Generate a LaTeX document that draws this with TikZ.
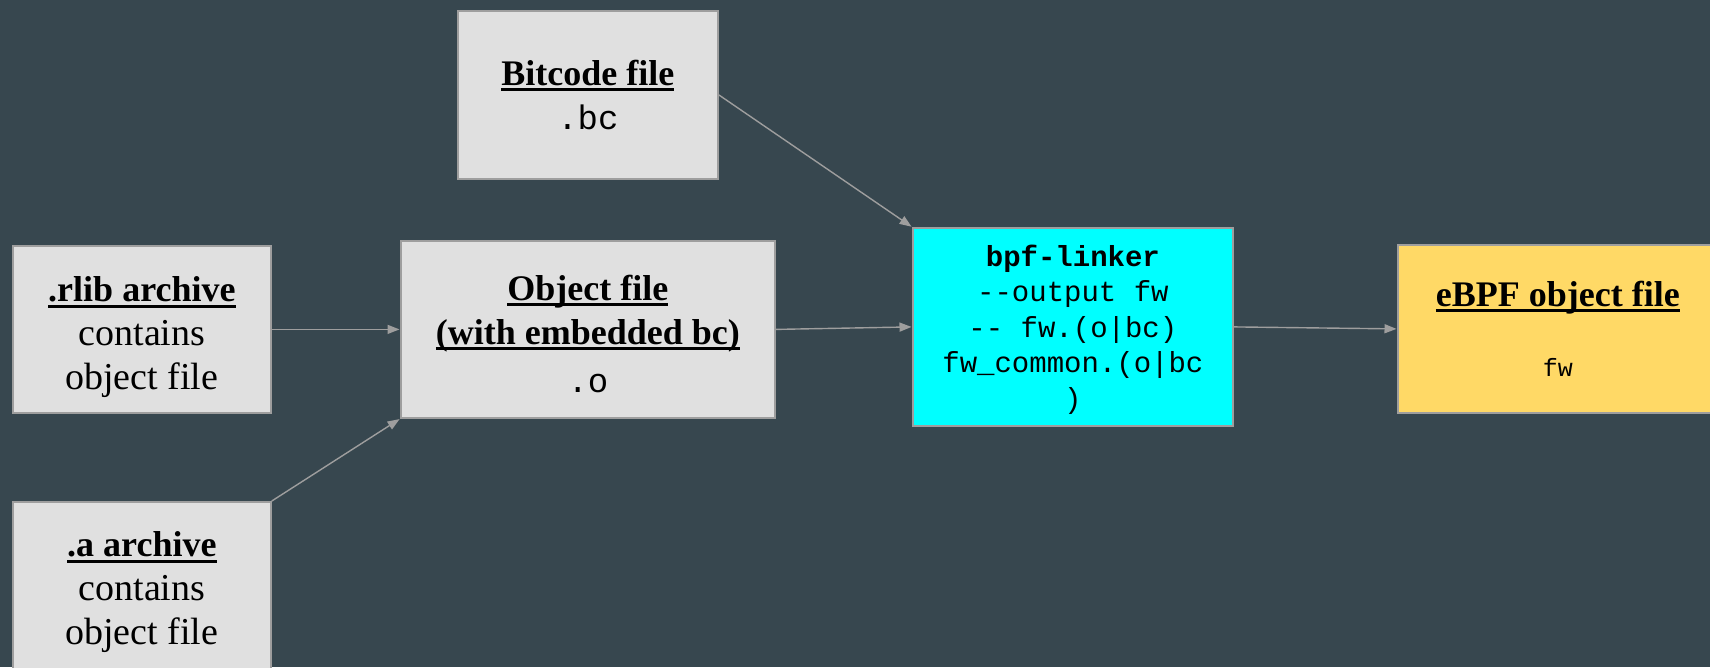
\documentclass[tikz,border=0pt]{standalone}
\usepackage{fontspec}
\setmainfont{Liberation Serif}
\setmonofont{Liberation Mono}
\usetikzlibrary{arrows.meta}
\definecolor{bg}{HTML}{37474F}
\definecolor{boxgray}{HTML}{E0E0E0}
\definecolor{edgegray}{HTML}{9E9E9E}
\definecolor{cyanbox}{HTML}{00FFFF}
\definecolor{ybox}{HTML}{FFD966}
\newcommand\myul[1]{\setbox0=\hbox{#1}\leavevmode\rlap{\rule[-0.16em]{\wd0}{0.08em}}\box0}
\newcommand\tstrut[1]{\rule{0pt}{#1}}
\newcommand\reg[1]{{\fontsize{38}{44}\selectfont #1}}
\tikzset{
  filebox/.style={rectangle, draw=edgegray, line width=1.8pt, fill=boxgray, inner sep=0pt,
    anchor=north west, align=center, font=\fontsize{36}{44}\selectfont},
  conn/.style={draw=edgegray, line width=1.4pt, -{Triangle[length=12pt,width=9pt]}, shorten >=0.5pt}
}
\begin{document}
\begin{tikzpicture}[x=1pt,y=-1pt]
\fill[bg] (0,0) rectangle (1710,667);
\useasboundingbox (0,0) rectangle (1710,667);
\clip (0,0) rectangle (1710,667);

\node[filebox, minimum width=260pt, minimum height=168pt] (bit) at (457,10)
  {\myul{\textbf{Bitcode file}}\\{\ttfamily\fontsize{34}{44}\selectfont .bc}};
\node[filebox, minimum width=258pt, minimum height=167pt] (rlib) at (12,245)
  {\tstrut{41pt}\myul{\textbf{.rlib archive}}\\\reg{contains}\\\reg{object file}};
\node[filebox, minimum width=374pt, minimum height=177pt] (obj) at (400,240)
  {\tstrut{34pt}\myul{\textbf{Object file}}\\\myul{\textbf{(with embedded bc)}}\\[4pt]{\ttfamily\fontsize{34}{44}\selectfont .o}};
\node[filebox, minimum width=258pt, minimum height=167pt] (arch) at (12,501)
  {\tstrut{39pt}\myul{\textbf{.a archive}}\\\reg{contains}\\\reg{object file}};
\node[filebox, fill=cyanbox, minimum width=320pt, minimum height=198pt,
      font=\ttfamily\fontsize{29}{35.5}\selectfont] (link) at (912,227)
  {\tstrut{27pt}\textbf{bpf-linker}\\--output fw\\-- fw.(o|bc)\\fw\_common.(o|bc\\)};
\node[filebox, fill=ybox, minimum width=320pt, minimum height=168pt] (ebpf) at (1397,244)
  {\myul{\textbf{eBPF object file}}\\[26pt]{\ttfamily\fontsize{25}{30}\selectfont fw}};

\draw[conn] (bit.east) -- (link.north west);
\draw[conn] (rlib.east) -- (obj.west);
\draw[conn] (arch.north east) -- (obj.south west);
\draw[conn] (obj.east) -- (link.west);
\draw[conn] (link.east) -- (ebpf.west);
\end{tikzpicture}
\end{document}
